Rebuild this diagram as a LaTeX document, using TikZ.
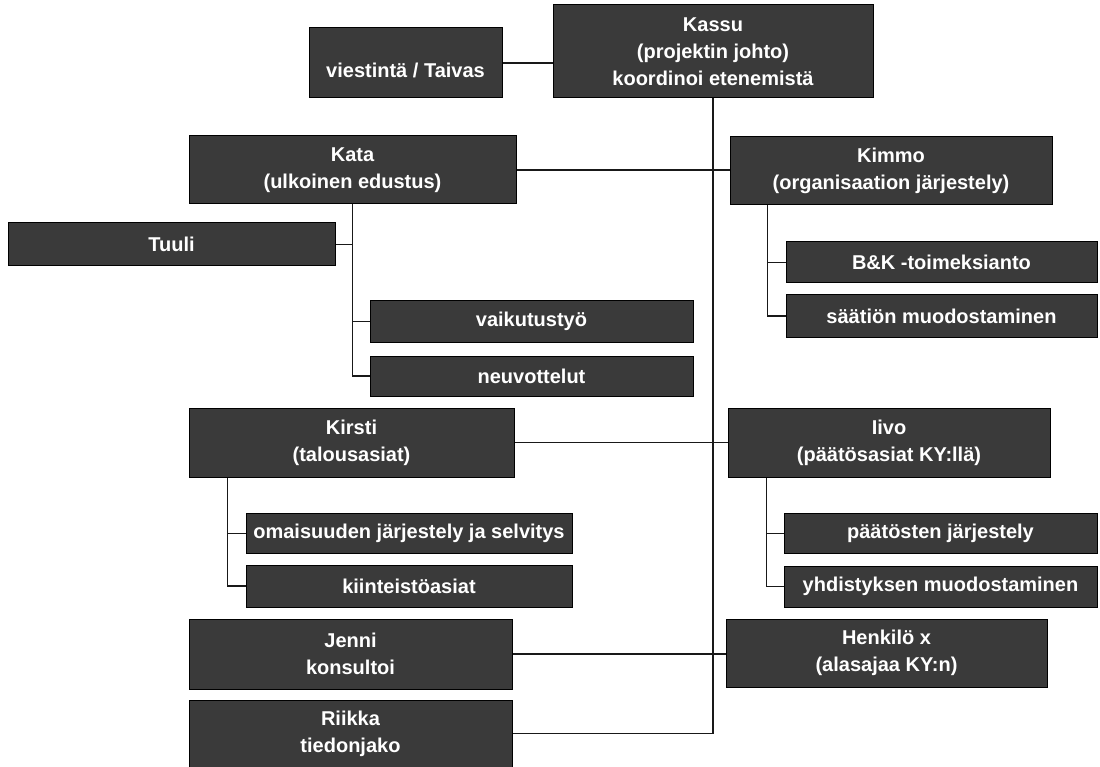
\documentclass[tikz,border=0pt]{standalone}
\usepackage{fontspec}
\setmainfont{Liberation Sans}
\usetikzlibrary{calc,backgrounds}
\definecolor{boxfill}{RGB}{58,58,58}
\definecolor{linecol}{RGB}{25,25,25}
\tikzset{
  orgbox/.style={draw=black, line width=1pt, fill=boxfill, text=white, inner sep=0pt,
    align=center, font=\bfseries\fontsize{20}{27}\selectfont},
  trunkline/.style={draw=linecol, line width=1.6pt},
  linkline/.style={draw=linecol, line width=1.3pt},
  subline/.style={draw=linecol, line width=1pt},
}
\begin{document}
\begin{tikzpicture}[x=1pt,y=-1pt]
\useasboundingbox (0,0) rectangle (1100,767);
% top
\node[orgbox, minimum width=320, minimum height=93] (kassu) at (713,51.5) {Kassu\\(projektin johto)\\koordinoi etenemistä};
\node[orgbox, minimum width=193, minimum height=70] (viest) at (405.5,63) {\raisebox{-7pt}[\height][0pt]{viestintä / Taivas}};
% row 1
\node[orgbox, minimum width=327, minimum height=68] (kata) at (352.5,170) {Kata\\(ulkoinen edustus)};
\node[orgbox, minimum width=322, minimum height=68] (kimmo) at (891,171) {Kimmo\\(organisaation järjestely)};
\node[orgbox, minimum width=327, minimum height=43] (tuuli) at (171.5,244.5) {Tuuli};
\node[orgbox, minimum width=323, minimum height=41] (vaik) at (531.5,321.5) {vaikutustyö};
\node[orgbox, minimum width=323, minimum height=40] (neuv) at (531.5,376) {neuvottelut};
\node[orgbox, minimum width=311, minimum height=41] (bk) at (941.5,262.5) {B\&K -toimeksianto};
\node[orgbox, minimum width=311, minimum height=42] (saat) at (941.5,316) {säätiön muodostaminen};
% row 2
\node[orgbox, minimum width=325, minimum height=69] (kirsti) at (351.5,442.5) {Kirsti\\(talousasiat)};
\node[orgbox, minimum width=322, minimum height=69] (iivo) at (889,442.5) {Iivo\\(päätösasiat KY:llä)};
\node[orgbox, minimum width=326, minimum height=40] (omai) at (409,533) {omaisuuden järjestely ja selvitys};
\node[orgbox, minimum width=326, minimum height=42] (kiin) at (409,586) {kiinteistöasiat};
\node[orgbox, minimum width=313, minimum height=40] (paat) at (940.5,533) {päätösten järjestely};
\node[orgbox, minimum width=313, minimum height=41] (yhd) at (940.5,586.5) {yhdistyksen muodostaminen};
% row 3
\node[orgbox, minimum width=323, minimum height=70] (jenni) at (350.5,654) {Jenni\\konsultoi};
\node[orgbox, minimum width=321, minimum height=68] (henk) at (886.5,653) {Henkilö x\\(alasajaa KY:n)};
\node[orgbox, minimum width=323, minimum height=67] (riikka) at (350.5,733.5) {Riikka\\tiedonjako};
% branch points
\coordinate (kv) at ($(kimmo.south west)+(38,0)$);
\coordinate (kr) at ($(kirsti.south west)+(39,0)$);
\coordinate (iv) at ($(iivo.south west)+(39,0)$);
\begin{scope}[on background layer]
  \fill[white] (0,0) rectangle (1100,767);
  \draw[trunkline] (kassu.south) |- (riikka.east);
  \draw[linkline] (viest.east) -- (viest.east -| kassu.west);
  \draw[linkline] (kata.east) -- (kata.east -| kimmo.west);
  \draw[linkline] (kirsti.east) -- (iivo.west);
  \draw[linkline] (jenni.east) -- (jenni.east -| henk.west);
  % Kata branch
  \draw[trunkline] (kata.south) |- (neuv.west);
  \draw[subline] (vaik.west -| kata.south) -- (vaik.west);
  \draw[subline] (tuuli.east) -- (tuuli.east -| kata.south);
  % Kimmo branch
  \draw[trunkline] (kv) |- (saat.west);
  \draw[subline] (kv |- bk.west) -- (bk.west);
  % Kirsti branch
  \draw[trunkline] (kr) |- (kiin.west);
  \draw[subline] (kr |- omai.west) -- (omai.west);
  % Iivo branch
  \draw[trunkline] (iv) |- (yhd.west);
  \draw[subline] (iv |- paat.west) -- (paat.west);
\end{scope}
\end{tikzpicture}
\end{document}
